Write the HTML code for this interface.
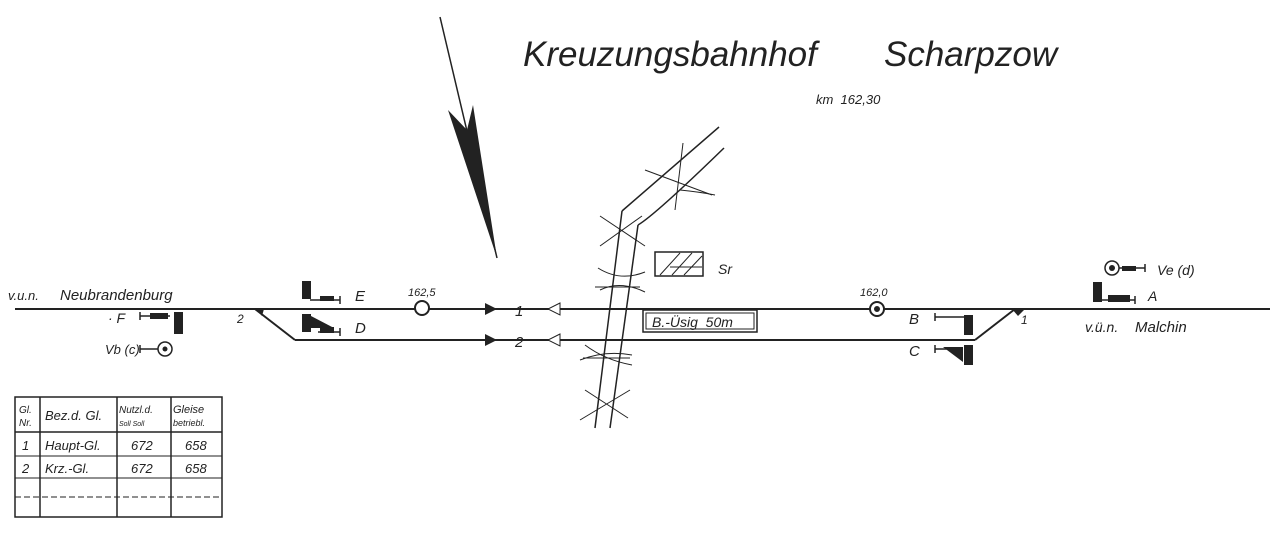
<!DOCTYPE html>
<html><head><meta charset="utf-8"><style>
html,body{margin:0;padding:0;background:#fff;}
svg{display:block;}
text{font-family:"Liberation Sans",sans-serif;font-style:italic;fill:#222;}
</style></head><body>
<svg width="1280" height="533" viewBox="0 0 1280 533" xmlns="http://www.w3.org/2000/svg">
<g stroke="#222" fill="none" stroke-width="2">
<!-- tracks -->
<line x1="15" y1="309" x2="1270" y2="309"/>
<line x1="295" y1="340" x2="975" y2="340"/>
<line x1="255" y1="309" x2="295" y2="340"/>
<line x1="1015" y1="309" x2="975" y2="340"/>
<!-- north arrow -->
<line x1="440" y1="17" x2="497" y2="258" stroke-width="1.5"/>
<!-- road -->
<line x1="622" y1="211" x2="595" y2="428" stroke-width="1.5"/>
<line x1="638" y1="225" x2="610" y2="428" stroke-width="1.5"/>
<line x1="622" y1="211" x2="719" y2="127" stroke-width="1.5"/>
<path d="M638 225 Q655 215 724 148" stroke-width="1.5"/>
<g stroke-width="1">
<line x1="645" y1="170" x2="712" y2="195"/><line x1="683" y1="143" x2="675" y2="210"/>
<path d="M680 190 Q700 192 715 195"/>
<line x1="600" y1="216" x2="645" y2="246"/><line x1="600" y1="246" x2="642" y2="216"/>
<path d="M598 268 Q620 282 645 272"/><path d="M600 290 Q620 280 645 292"/>
<line x1="595" y1="287" x2="640" y2="287"/>
<path d="M580 360 Q605 350 632 355"/><path d="M585 345 Q605 360 632 365"/>
<line x1="583" y1="358" x2="630" y2="358"/>
<line x1="580" y1="420" x2="630" y2="390"/><line x1="585" y1="390" x2="628" y2="418"/>
</g>
<!-- km posts -->
<circle cx="422" cy="308" r="7" fill="#fff"/>
<circle cx="877" cy="309" r="7" fill="#fff"/>
<circle cx="877" cy="309" r="2" fill="#222"/>
<!-- B-Üsig box -->
<rect x="643" y="310" width="114" height="22" stroke-width="1.5"/>
<rect x="646" y="313" width="108" height="16" stroke-width="1"/>
<!-- Sr box -->
<rect x="655" y="252" width="48" height="24" stroke-width="1.5"/>
<g stroke-width="1"><line x1="660" y1="275" x2="680" y2="253"/><line x1="672" y1="275" x2="692" y2="253"/><line x1="684" y1="275" x2="702" y2="256"/><line x1="670" y1="267" x2="702" y2="267"/></g>
<!-- table -->
<rect x="15" y="397" width="207" height="120" stroke-width="1.5"/>
<line x1="40" y1="397" x2="40" y2="517" stroke-width="1.5"/>
<line x1="117" y1="397" x2="117" y2="517" stroke-width="1.5"/>
<line x1="171" y1="397" x2="171" y2="517" stroke-width="1.5"/>
<line x1="15" y1="432" x2="222" y2="432" stroke-width="1.5"/>
<line x1="15" y1="456" x2="222" y2="456" stroke-width="1"/>
<line x1="15" y1="478" x2="222" y2="478" stroke-width="1"/>
<line x1="15" y1="497" x2="222" y2="497" stroke-width="1" stroke-dasharray="6 3"/>
<!-- signals -->
<g stroke-width="1.5">
<line x1="310" y1="300" x2="340" y2="300"/><line x1="340" y1="296" x2="340" y2="304"/>
<line x1="318" y1="332" x2="340" y2="332"/><line x1="340" y1="328" x2="340" y2="336"/>
<line x1="140" y1="316" x2="170" y2="316"/><line x1="140" y1="312" x2="140" y2="320"/>
<line x1="140" y1="349" x2="158" y2="349"/><line x1="140" y1="345" x2="140" y2="353"/>
<circle cx="165" cy="349" r="7"/><circle cx="1112" cy="268" r="7"/>
<line x1="1119" y1="268" x2="1145" y2="268"/><line x1="1145" y1="264" x2="1145" y2="272"/>
<line x1="1100" y1="300" x2="1135" y2="300"/><line x1="1135" y1="296" x2="1135" y2="304"/>
<line x1="935" y1="317" x2="965" y2="317"/><line x1="935" y1="313" x2="935" y2="321"/>
<line x1="935" y1="349" x2="960" y2="349"/><line x1="935" y1="345" x2="935" y2="353"/>
</g>
</g>
<g fill="#222">
<polygon points="448,110 467,130 473,105 497,258"/>
<rect x="302" y="281" width="9" height="18"/><rect x="320" y="296" width="14" height="5"/>
<rect x="302" y="314" width="9" height="18"/><polygon points="311,316 334,328 311,328"/><rect x="320" y="327" width="14" height="6"/>
<rect x="174" y="312" width="9" height="22"/><rect x="150" y="313" width="18" height="6"/>
<circle cx="165" cy="349" r="2.5"/><circle cx="1112" cy="268" r="3"/><rect x="1122" y="266" width="14" height="5"/>
<rect x="1093" y="282" width="9" height="20"/><rect x="1108" y="295" width="22" height="7"/>
<rect x="964" y="315" width="9" height="20"/><rect x="964" y="345" width="9" height="20"/>
<polygon points="943,347 963,347 963,362"/>
<polygon points="485,303 497,309 485,315"/><polygon points="485,334 497,340 485,346"/>
<polygon points="560,303 548,309 560,315" fill="#fff" stroke="#222"/><polygon points="560,334 548,340 560,346" fill="#fff" stroke="#222"/>
<polygon points="1012,309 1025,309 1018,316"/><polygon points="256,309 264,309 262,316"/>
</g>
<text x="523" y="66" font-size="35">Kreuzungsbahnhof</text>
<text x="884" y="66" font-size="35">Scharpzow</text>
<text x="816" y="104" font-size="13">km&#160;&#160;162,30</text>
<text x="8" y="300" font-size="13">v.u.n.</text>
<text x="60" y="300" font-size="15">Neubrandenburg</text>
<text x="1085" y="332" font-size="14">v.ü.n.</text>
<text x="1135" y="332" font-size="15">Malchin</text>
<text x="108" y="323" font-size="14">· F</text>
<text x="237" y="323" font-size="12">2</text>
<text x="1021" y="324" font-size="12">1</text>
<text x="105" y="354" font-size="13">Vb (c)</text>
<text x="1157" y="275" font-size="14">Ve (d)</text>
<text x="1148" y="301" font-size="14">A</text>
<text x="355" y="301" font-size="15">E</text>
<text x="355" y="333" font-size="15">D</text>
<text x="909" y="324" font-size="15">B</text>
<text x="909" y="356" font-size="15">C</text>
<text x="408" y="296" font-size="11">162,5</text>
<text x="860" y="296" font-size="11">162,0</text>
<text x="515" y="316" font-size="15">1</text>
<text x="515" y="347" font-size="15">2</text>
<text x="652" y="327" font-size="14">B.-Üsig&#160;&#160;50m</text>
<text x="718" y="274" font-size="14">Sr</text>
<text x="19" y="413" font-size="10">Gl.</text><text x="19" y="426" font-size="10">Nr.</text>
<text x="45" y="420" font-size="13">Bez.d. Gl.</text>
<text x="119" y="413" font-size="10">Nutzl.d.</text><text x="173" y="413" font-size="11">Gleise</text>
<text x="119" y="426" font-size="7">Soll Soll</text><text x="173" y="426" font-size="9">betriebl.</text>
<text x="22" y="450" font-size="13">1</text><text x="45" y="450" font-size="13">Haupt-Gl.</text>
<text x="131" y="450" font-size="13">672</text><text x="185" y="450" font-size="13">658</text>
<text x="22" y="473" font-size="13">2</text><text x="45" y="473" font-size="13">Krz.-Gl.</text>
<text x="131" y="473" font-size="13">672</text><text x="185" y="473" font-size="13">658</text>
</svg>
</body></html>
